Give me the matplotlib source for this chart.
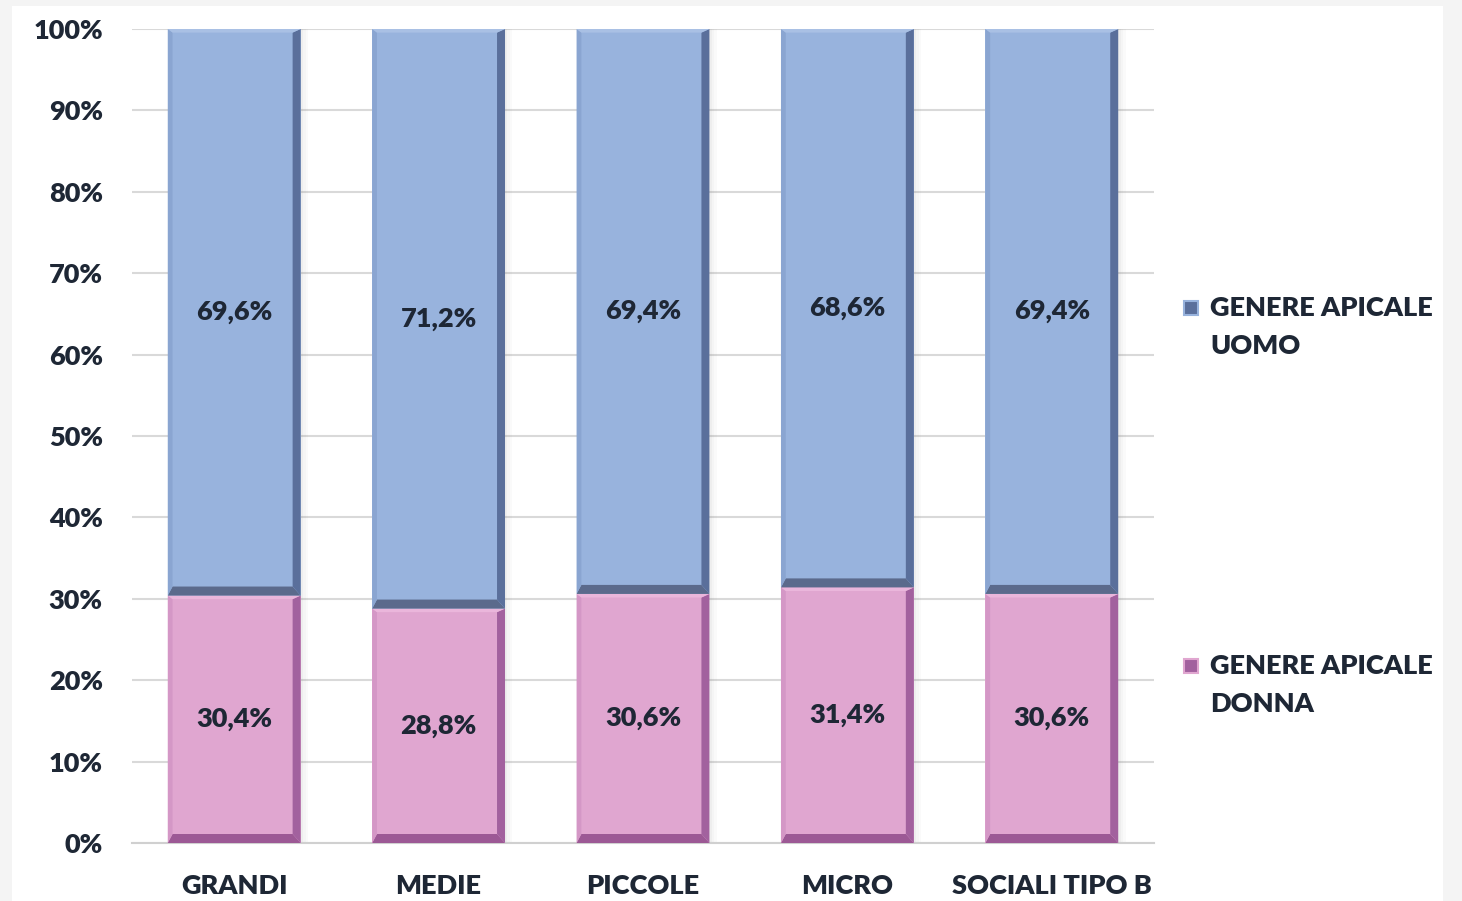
import numpy as np
import matplotlib
matplotlib.use("Agg")
import matplotlib.pyplot as plt
from matplotlib.patches import Polygon, Rectangle

categorie = ["GRANDI", "MEDIE", "PICCOLE", "MICRO", "SOCIALI TIPO B"]
donna = [30.4, 28.8, 30.6, 31.4, 30.6]
uomo = [69.6, 71.2, 69.4, 68.6, 69.4]
etichette_serie = ["GENERE APICALE\nUOMO", "GENERE APICALE\nDONNA"]

plt.rcParams["font.family"] = ["Lato", "DejaVu Sans"]
plt.rcParams["font.weight"] = "heavy"
TXT = "#1e2735"
FS = 19.5

BLU = dict(face="#98b3dd", left="#8aa5d1", right="#5a6f9b", bottom="#5b6a8c", top="#a9c0e4")
ROSA = dict(face="#e0a6d0", left="#d497c6", right="#a2619e", bottom="#9c5995", top="#eab6db")

fig = plt.figure(figsize=(14.62, 9.01), dpi=100, facecolor="#f4f4f4")
fig.patches.append(Rectangle((12 / 1462, 0), 1431 / 1462, 895 / 901,
                             transform=fig.transFigure, facecolor="white",
                             edgecolor="none", zorder=-10))
ax = fig.add_axes([132 / 1462, 1 - 843 / 901, 1022 / 1462, 814 / 901])
ax.set_facecolor("none")

x = np.arange(len(categorie))
w = 0.65
b_donna = ax.bar(x, donna, w, color=ROSA["face"], zorder=3)
b_uomo = ax.bar(x, uomo, w, bottom=donna, color=BLU["face"], zorder=3)

ax.set_xlim(-0.5, len(categorie) - 0.5)
ax.set_ylim(0, 100)

# bevel edges, sized in pixels and converted to data units
bx = 8 / 204.4
by = 9 / 8.14


def smussa(rect, c):
    x0, y0 = rect.get_x(), rect.get_y()
    x1, y1 = x0 + rect.get_width(), y0 + rect.get_height()
    lx = bx * 0.6
    ty = by * 0.4
    pezzi = [
        ([(x0, y0), (x1, y0), (x1 - bx, y0 + by), (x0 + lx, y0 + by)], c["bottom"]),
        ([(x1, y0), (x1, y1), (x1 - bx, y1 - ty), (x1 - bx, y0 + by)], c["right"]),
        ([(x0, y0), (x0 + lx, y0 + by), (x0 + lx, y1 - ty), (x0, y1)], c["left"]),
        ([(x0, y1), (x0 + lx, y1 - ty), (x1 - bx, y1 - ty), (x1, y1)], c["top"]),
    ]
    for pts, col in pezzi:
        ax.add_patch(Polygon(pts, closed=True, facecolor=col, edgecolor="none", zorder=4))
    # soft shadow to the right of the bar
    for k, a in enumerate([0.10, 0.06, 0.03]):
        ax.add_patch(Rectangle((x1 + k * 0.012, y0), 0.012, y1 - y0,
                               facecolor="#606060", alpha=a, edgecolor="none", zorder=2))


for r in b_donna:
    smussa(r, ROSA)
for r in b_uomo:
    smussa(r, BLU)

for i in range(len(categorie)):
    ax.text(x[i], donna[i] / 2, f"{donna[i]:.1f}%".replace(".", ","),
            ha="center", va="center", fontsize=FS, color=TXT, zorder=5)
    ax.text(x[i], donna[i] + uomo[i] / 2, f"{uomo[i]:.1f}%".replace(".", ","),
            ha="center", va="center", fontsize=FS, color=TXT, zorder=5)

ax.set_yticks(np.arange(0, 101, 10))
ax.set_yticklabels([f"{v}%" for v in range(0, 101, 10)])
ax.set_xticks(x)
ax.set_xticklabels(categorie)
ax.tick_params(axis="y", length=0, pad=21, labelsize=FS, labelcolor=TXT)
ax.tick_params(axis="x", length=0, pad=22, labelsize=FS, labelcolor=TXT)
ax.grid(axis="y", color="#d9d9d9", linewidth=1.5, zorder=0)
ax.set_axisbelow(True)
for s in ["top", "right", "left"]:
    ax.spines[s].set_visible(False)
ax.spines["bottom"].set_color("#d0d0d0")
ax.spines["bottom"].set_linewidth(1.5)

# legend entries on the right
voci = [(etichette_serie[0], BLU, 308), (etichette_serie[1], ROSA, 666)]
for testo, c, ypix in voci:
    fig.patches.append(Rectangle((1184 / 1462, 1 - (ypix + 7) / 901), 14 / 1462, 14 / 901,
                                 transform=fig.transFigure, facecolor=c["right"],
                                 edgecolor=c["face"], linewidth=1.5))
    fig.text(1210 / 1462, 1 - (ypix - 12) / 901, testo, ha="left", va="top",
             fontsize=FS, color=TXT, linespacing=1.7)

fig.savefig("out.png", dpi=100, facecolor=fig.get_facecolor())
